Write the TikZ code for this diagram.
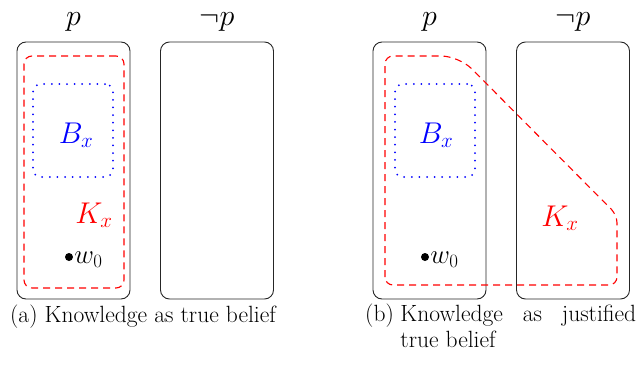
\RequirePackage{fix-cm}
\documentclass[tikz,border=0pt]{standalone}
\usepackage{amsmath,amssymb}
\usepackage{fontspec}
\usetikzlibrary{positioning}

\begin{document}
\begin{tikzpicture}[
    x=1pt,y=-1pt,
    world/.style={draw=black!85,line width=0.9pt,rounded corners=9pt,
      minimum width=113pt,minimum height=257pt,inner sep=0pt},
    kset/.style={draw=red,line width=1.1pt,dash pattern=on 7pt off 5pt,
      rounded corners=8pt,inner sep=0pt},
    bset/.style={draw=blue,line width=2pt,line cap=round,
      dash pattern=on 0pt off 7.6pt,rounded corners=8pt,inner sep=0pt},
    setlabel/.style={font=\fontsize{30}{36}\selectfont,inner sep=1pt},
    caption/.style={font=\fontsize{23.5}{26}\selectfont,inner sep=0pt,align=left},
    point/.style={circle,fill=black,inner sep=0pt,minimum size=8pt}
  ]
    \useasboundingbox (0,0) rectangle (639,367);

    % (a) Knowledge as true belief
    \node[world] (pa) at (73.5,170.5) {};
    \node[world] (npa) at (217,170.5) {};
    \node[setlabel,above=9pt of pa] {$p$};
    \node[setlabel,above=9pt of npa] {$\neg p$};
    \node[kset,minimum width=100pt,minimum height=232pt] (ka) at (74,172) {};
    \node[bset,minimum width=80pt,minimum height=93pt] (ba) at (73,130.5) {};
    \node[setlabel,text=blue] at (76,135) {$B_x$};
    \node[setlabel,text=red] at (94,215) {$K_x$};
    \node[point] (wa) at (69,257) {};
    \node[setlabel,font=\fontsize{27}{32}\selectfont,right=0pt of wa,yshift=-3pt] {$w_0$};
    \node[caption,anchor=base] (capa) at (143,322) {(a) Knowledge as true belief};

    % (b) Knowledge as justified true belief
    \node[world] (pb) at (429.5,170.5) {};
    \node[world] (npb) at (573,170.5) {};
    \node[setlabel,above=9pt of pb] {$p$};
    \node[setlabel,above=9pt of npb] {$\neg p$};
    \draw[kset] (385,285) -- (385,56) [rounded corners=18pt] -- (459,56)
      [rounded corners=8pt] -- (617,215) -- (617,285) -- cycle;
    \node[bset,minimum width=80pt,minimum height=93pt] (bb) at (435,130.5) {};
    \node[setlabel,text=blue] at (436,135) {$B_x$};
    \node[setlabel,text=red] at (560,218) {$K_x$};
    \node[point] (wb) at (425,257) {};
    \node[setlabel,font=\fontsize{27}{32}\selectfont,right=0pt of wb,yshift=-3pt] {$w_0$};
    \node[caption,anchor=base west] (capb) at (365,347)
      {\makebox[271pt][s]{(b)\hspace{0.28em}Knowledge as justified}\\
       \hphantom{(b)\hspace{0.28em}}true belief};
  \end{tikzpicture}
\end{document}
